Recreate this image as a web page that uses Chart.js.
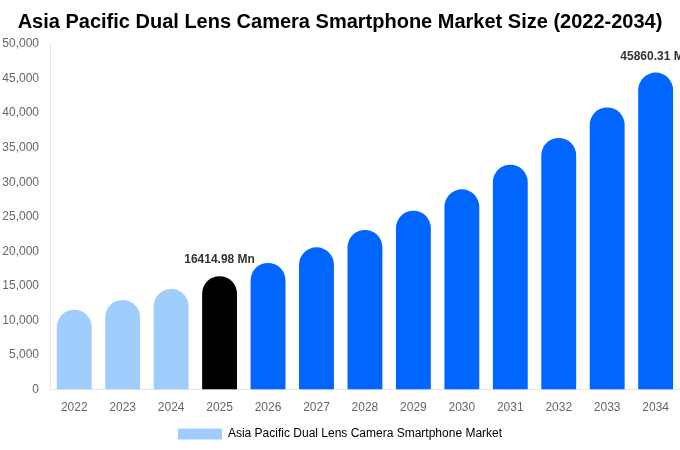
<!DOCTYPE html>
<html>
<head>
<meta charset="utf-8">
<script src="https://cdn.jsdelivr.net/npm/chart.js@4.4.0/dist/chart.umd.min.js"></script>
<style>
  html, body { margin: 0; padding: 0; background: #fff; }
  #wrap { width: 680px; height: 450px; }
</style>
</head>
<body>
<div id="wrap"><canvas id="marketChart"></canvas></div>
<script>
// data
var years = ["2022", "2023", "2024", "2025", "2026", "2027", "2028", "2029", "2030", "2031", "2032", "2033", "2034"];
var marketSize = [11570, 12970, 14560, 16414.98, 18320, 20580, 23090, 25890, 28970, 32540, 36400, 40830, 45860.31];
var barColors = ["#a0cdfc", "#a0cdfc", "#a0cdfc", "#000000", "#0066ff", "#0066ff", "#0066ff", "#0066ff", "#0066ff", "#0066ff", "#0066ff", "#0066ff", "#0066ff"];
var labelled = { 3: "16414.98 Mn", 12: "45860.31 Mn" };

Chart.defaults.font.family = "'Liberation Sans', Arial, sans-serif";

// draws the value labels above the highlighted bars
var valueLabels = {
    id: "valueLabels",
    afterDatasetsDraw: function (chart) {
        var ctx = chart.ctx;
        var meta = chart.getDatasetMeta(0);
        ctx.save();
        ctx.font = "bold 12px 'Liberation Sans', Arial, sans-serif";
        ctx.fillStyle = "#333333";
        ctx.textAlign = "center";
        ctx.textBaseline = "bottom";
        Object.keys(labelled).forEach(function (i) {
            var bar = meta.data[i];
            ctx.fillText(labelled[i], bar.x, bar.y - 10);
        });
        ctx.restore();
    }
};

new Chart(document.getElementById("marketChart"), {
    type: "bar",
    data: {
        labels: years,
        datasets: [{
            label: "Asia Pacific Dual Lens Camera Smartphone Market",
            data: marketSize,
            backgroundColor: barColors,
            borderRadius: { topLeft: 40, topRight: 40 },
            borderSkipped: "bottom"
        }]
    },
    options: {
        responsive: true,
        maintainAspectRatio: false,
        animation: false,
        layout: { padding: { left: 0, right: 0, top: 0, bottom: 0 } },
        plugins: {
            title: {
                display: true,
                text: "Asia Pacific Dual Lens Camera Smartphone Market Size (2022-2034)",
                color: "#000",
                font: { size: 20, weight: "bold" },
                padding: { top: 10, bottom: 10 }
            },
            legend: {
                position: "bottom",
                labels: {
                    color: "#666",
                    font: { size: 12 },
                    boxWidth: 44,
                    boxHeight: 11,
                    padding: 4,
                    generateLabels: function (chart) {
                        return [{
                            text: chart.data.datasets[0].label,
                            fillStyle: barColors[0],
                            strokeStyle: barColors[0],
                            lineWidth: 0,
                            datasetIndex: 0
                        }];
                    }
                }
            },
            tooltip: { enabled: false }
        },
        scales: {
            x: {
                afterFit: function (axis) { axis.height -= 2; },
                grid: { display: false, drawTicks: false },
                border: { color: "#e4e4e4" },
                ticks: { color: "#666", font: { size: 12 }, padding: 11 }
            },
            y: {
                min: 0,
                max: 50000,
                afterFit: function (axis) { axis.width = 50; },
                grid: { display: false, drawTicks: false },
                border: { color: "#e4e4e4" },
                ticks: {
                    stepSize: 5000,
                    color: "#666",
                    font: { size: 12 },
                    padding: 11,
                    callback: function (v) { return v.toLocaleString("en-US"); }
                }
            }
        }
    },
    plugins: [valueLabels]
});
</script>
</body>
</html>
